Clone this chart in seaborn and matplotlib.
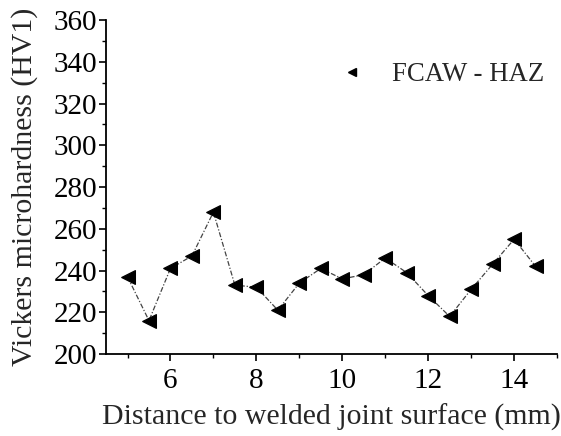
import matplotlib
matplotlib.use("Agg")
import matplotlib.pyplot as plt
from matplotlib.lines import Line2D
from matplotlib.ticker import MultipleLocator
import seaborn as sns
import pandas as pd

distance_mm = [5, 5.5, 6, 6.5, 7, 7.5, 8, 8.5, 9, 9.5, 10, 10.5, 11, 11.5, 12, 12.5, 13, 13.5, 14, 14.5]
hardness_hv1 = [237, 216, 241, 247, 268, 233, 232, 221, 234, 241, 236, 238, 246, 239, 228, 218, 231, 243, 255, 242]
series_label = "FCAW - HAZ"

df = pd.DataFrame({"x": distance_mm, "y": hardness_hv1})

sns.set_theme(style="ticks")
plt.rcParams["font.family"] = ["Liberation Serif", "DejaVu Serif"]
plt.rcParams["mathtext.fontset"] = "stix"

fig = plt.figure(figsize=(5.61, 4.36), dpi=100)
ax = fig.add_axes([0.189, 0.188, 0.804, 0.766])

sns.lineplot(data=df, x="x", y="y", ax=ax, color="#444444", linewidth=0.9,
             linestyle=(0, (4, 1.5, 1, 1.5)), marker="<", markersize=9.5,
             markeredgecolor="black", markerfacecolor="black")

ax.set_xlim(4.5, 15)
ax.set_ylim(200, 360)
ax.xaxis.set_major_locator(MultipleLocator(2))
ax.xaxis.set_minor_locator(MultipleLocator(1))
ax.yaxis.set_major_locator(MultipleLocator(20))
ax.yaxis.set_minor_locator(MultipleLocator(10))

for side in ["top", "right"]:
    ax.spines[side].set_visible(False)
for side in ["left", "bottom"]:
    ax.spines[side].set_linewidth(1.3)
    ax.spines[side].set_color("black")

ax.tick_params(axis="both", which="major", direction="out", length=5, width=1.2,
               labelsize=21, pad=1.5, colors="black")
ax.tick_params(axis="both", which="minor", direction="out", length=3, width=1.0, colors="black")
ax.tick_params(axis="x", which="major", pad=5)

ax.set_xlabel("Distance to welded joint surface (mm)", fontsize=21.5, labelpad=7)
ax.set_ylabel("Vickers microhardness (HV1)", fontsize=21.5, labelpad=11)

handle = Line2D([], [], linestyle="none", marker="<", markersize=6,
                color="black")
ax.legend([handle], [series_label], loc="upper right", bbox_to_anchor=(1.013, 0.93),
          frameon=False, fontsize=19.3, handletextpad=0.5, borderaxespad=0.3)

fig.savefig("out.png", dpi=100)
